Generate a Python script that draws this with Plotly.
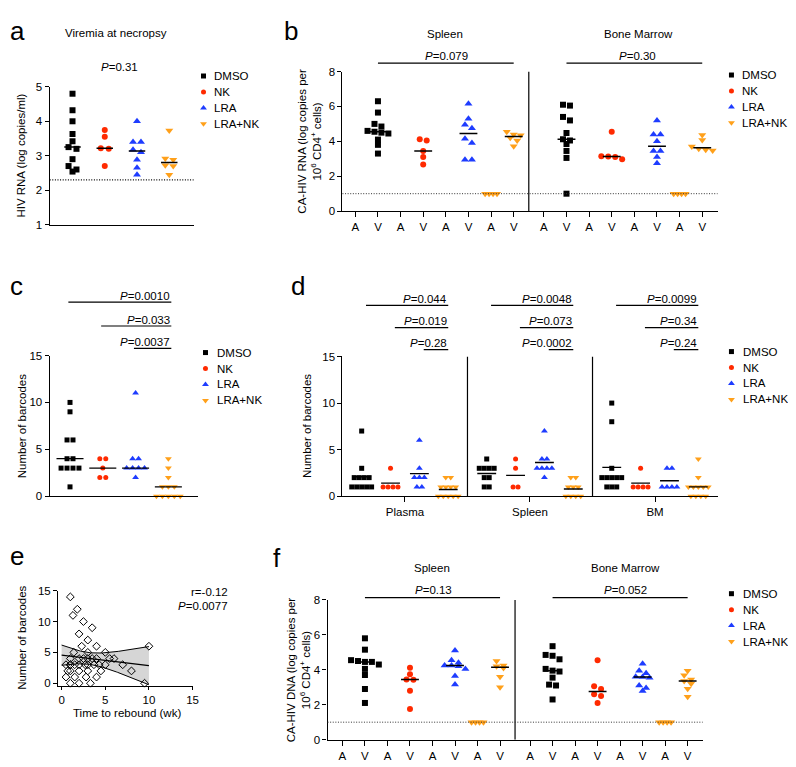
import numpy as np
import plotly.graph_objects as go

# The page body adds an 8px margin, so the figure is laid out in reference
# pixel coordinates shifted by (OX, OY).
OX, OY = 8, 8
W, H = 796 - OX, 767 - OY
FONT = "Liberation Sans, Arial, sans-serif"

GROUPS = ["DMSO", "NK", "LRA", "LRA+NK"]
COLORS = ["#000000", "#ff2a00", "#1e3cff", "#ffa01a"]
SYMBOLS = ["square", "circle", "triangle-up", "triangle-down"]

# ---------------- panel a : viremia at necropsy ----------------
a_dmso = [4.8, 4.32, 4.0, 3.63, 3.42, 3.25, 3.2, 2.9, 2.7, 2.6, 2.54]
a_nk = [3.75, 3.55, 3.22, 3.2, 2.7]
a_lra = [4.0, 3.4, 3.4, 3.17, 3.1, 2.88, 2.65, 2.45]
a_lranek = [3.73, 2.92, 2.88, 2.72, 2.7, 2.45]
a_p = "0.31"
a_lod = 2.3

# ---------------- panel b : CA-HIV RNA ----------------
b_spl_dmso = [6.3, 5.65, 5.0, 4.85, 4.6, 4.55, 4.5, 4.45, 4.1, 3.8, 3.3]
b_spl_nk = [4.12, 4.05, 3.45, 3.1, 2.68]
b_spl_lra = [6.15, 5.3, 4.95, 4.75, 4.15, 3.9, 2.95, 2.95]
b_spl_lranek_a = [1, 1, 1, 1]
b_spl_lranek_v = [4.55, 4.4, 4.35, 4.2, 4.05, 3.72]
b_bm_dmso = [6.1, 6.05, 5.4, 5.2, 4.48, 4.12, 4.05, 3.85, 3.45, 3.05, 1.0]
b_bm_nk = [4.55, 3.15, 3.13, 3.1, 2.97]
b_bm_lra = [5.2, 4.4, 4.4, 4.0, 3.45, 3.45, 3.1, 2.75]
b_bm_lranek_a = [1, 1, 1, 1]
b_bm_lranek_v = [4.37, 4.08, 3.7, 3.58, 3.52, 3.48]
b_p = ["0.079", "0.30"]

# ---------------- panel c : barcodes ----------------
c_dmso = [10, 9, 6, 6, 4, 4, 3, 3, 3, 3, 1]
c_nk = [4, 4, 3, 2, 2]
c_lra = [11, 4, 4, 3, 3, 3, 3, 2]
c_lranek = [4, 3, 2, 1, 1, 1, 0, 0, 0, 0, 0]
c_p = ["0.0010", "0.033", "0.0037"]

# ---------------- panel d : barcodes per tissue ----------------
d_tissues = ["Plasma", "Spleen", "BM"]
d_plasma_dmso = [7, 3, 2, 2, 2, 2, 1, 1, 1, 1, 1]
d_plasma_nk = [3, 1, 1, 1, 1]
d_plasma_lra = [6, 3, 2, 2, 2, 1, 1]
d_plasma_lranek = [2, 2, 1, 1, 1, 1, 0, 0, 0, 0, 0]
d_spleen_dmso = [4, 3, 3, 3, 3, 2, 2, 1, 1]
d_spleen_nk = [4, 3, 1, 1]
d_spleen_lra = [7, 4, 4, 3, 3, 3, 3, 2]
d_spleen_lranek = [2, 2, 1, 1, 1, 0, 0, 0, 0]
d_bm_dmso = [10, 8, 3, 2, 2, 2, 2, 2, 1, 1, 1]
d_bm_nk = [3, 1, 1, 1, 1]
d_bm_lra = [3, 3, 1, 1, 1, 1]
d_bm_lranek = [4, 2, 1, 1, 1, 1, 1, 0, 0, 0, 0]
d_plasma_p = ["0.044", "0.019", "0.28"]
d_spleen_p = ["0.0048", "0.073", "0.0002"]
d_bm_p = ["0.0099", "0.34", "0.24"]

# ---------------- panel e : correlation ----------------
e_weeks = [0.5, 0.5, 0.7, 1, 1, 1, 1, 1, 1, 1.3, 1.4, 1.5, 1.5, 1.8, 2, 2, 2, 2, 2,
           2.3, 2.5, 2.5, 2.7, 2.8, 3, 3, 3, 3, 3, 3.3, 3.5, 3.5, 3.7, 4, 4, 4,
           4.3, 4.5, 5, 5, 5.5, 6, 7, 8, 9.5, 10]
e_barcodes = [3, 1, 2, 14, 3, 4, 3, 2, 0, 11, 5, 3, 1, 12, 8, 4, 3, 2, 0,
              6, 10, 4, 3, 1, 7, 5, 4, 3, 2, 0, 9, 4, 3, 6, 4, 1,
              3, 2, 5, 3, 4, 4, 3, 2, 0, 6]
e_r = "-0.12"
e_p = "0.0077"

# ---------------- panel f : CA-HIV DNA ----------------
f_spl_dmso = [5.8, 5.15, 4.55, 4.5, 4.45, 4.45, 4.3, 4.05, 3.7, 2.9, 2.1]
f_spl_nk = [4.12, 3.75, 3.45, 3.43, 2.8, 1.75]
f_spl_lra = [5.1, 4.55, 4.4, 4.25, 4.25, 4.2, 4.05, 3.65, 3.15]
f_spl_lranek_a = [1, 1, 1, 1]
f_spl_lranek_v = [4.5, 4.25, 4.2, 4.1, 3.6, 3.0]
f_bm_dmso = [5.35, 4.85, 4.8, 4.6, 4.05, 3.95, 3.9, 3.55, 3.15, 3.1, 2.3]
f_bm_nk = [4.55, 3.05, 2.9, 2.6, 2.5, 2.1]
f_bm_lra = [4.35, 3.95, 3.8, 3.6, 3.58, 3.55, 3.1, 2.95, 2.78]
f_bm_lranek_a = [1, 1, 1, 1]
f_bm_lranek_v = [3.95, 3.68, 3.45, 3.35, 3.2, 2.92, 2.45]
f_p = ["0.13", "0.052"]

# =====================================================================
fig = go.Figure()
_n = [0]


def fx(x):
    return (x - OX) / W


def fy(y):
    return 1 - (y - OY) / H


def add_axes(x0, x1, y0, y1, xrange, yrange, xopt=None, yopt=None):
    _n[0] += 1
    n = _n[0]
    sfx = "" if n == 1 else str(n)
    base = dict(showgrid=False, zeroline=False, showline=True, linecolor="black",
                linewidth=1.2, ticks="outside", ticklen=4, tickwidth=1.2, tickcolor="black",
                tickfont=dict(size=11.5, color="black", family=FONT), fixedrange=True)
    xd = dict(base, domain=[fx(x0), fx(x1)], range=xrange, anchor="y" + sfx)
    yd = dict(base, domain=[fy(y1), fy(y0)], range=yrange, anchor="x" + sfx)
    if xopt:
        xd.update(xopt)
    if yopt:
        yd.update(yopt)
    fig.update_layout(**{"xaxis" + sfx: xd, "yaxis" + sfx: yd})
    return "x" + sfx, "y" + sfx


def swarm(vals, ypu, xpu, d, thresh=4.5):
    v = np.asarray(vals, float)
    order = np.argsort(-v, kind="stable")
    offs = np.zeros(len(v))
    rows = []
    for i in order:
        if rows and (v[rows[-1][0]] - v[i]) * ypu < thresh:
            rows[-1].append(i)
        else:
            rows.append([i])
    for r in rows:
        n = len(r)
        for k, i in enumerate(r):
            offs[i] = (k - (n - 1) / 2) * d / xpu
    return offs


def add_points(xr, yr, pos, vals, gi, size, xpu, ypu, d):
    off = swarm(vals, ypu, xpu, d)
    fig.add_trace(go.Scatter(
        x=pos + off, y=vals, mode="markers", xaxis=xr, yaxis=yr,
        marker=dict(symbol=SYMBOLS[gi], color=COLORS[gi],
                    size=size + (1 if gi >= 2 else 0), line=dict(width=0)),
        showlegend=False, cliponaxis=False, hoverinfo="skip"))


def add_center(xr, yr, pos, value, hw, width=1.5):
    fig.add_trace(go.Scatter(
        x=[pos - hw, pos + hw], y=[value, value], mode="lines", xaxis=xr, yaxis=yr,
        line=dict(color="black", width=width), showlegend=False, cliponaxis=False,
        hoverinfo="skip"))


def text(x, y, s, size=11.5, anchor="center", angle=0, yanchor="middle"):
    fig.add_annotation(x=fx(x), y=fy(y), xref="paper", yref="paper", text=s,
                       showarrow=False, xanchor=anchor, yanchor=yanchor, textangle=angle,
                       font=dict(size=size, color="black", family=FONT))


def pbar(xr, x0, x1, y):
    fig.add_shape(type="line", xref=xr, yref="paper", x0=x0, x1=x1,
                  y0=fy(y), y1=fy(y), line=dict(color="black", width=1.2))


def hline(xr, yr, yv, width=1, color="black"):
    fig.add_shape(type="line", xref=xr + " domain", yref=yr, x0=0, x1=1, y0=yv, y1=yv,
                  line=dict(color=color, width=width, dash="1px,1.6px"))


def vline(xr, yr, xv, y0, y1):
    fig.add_shape(type="line", xref=xr, yref=yr, x0=xv, x1=xv, y0=y0, y1=y1,
                  line=dict(color="black", width=1.2))


def pv(s):
    return "<i>P</i>=" + s


# ---------------- panel a ----------------
A_XPU, A_YPU = 32.5, 35.3
xa, ya = add_axes(50, 195, 82, 222, [-0.708, 3.754], [1, 5],
                  xopt=dict(ticks="", showticklabels=False),
                  yopt=dict(tickvals=[1, 2, 3, 4, 5]))
for gi, vals in enumerate([a_dmso, a_nk, a_lra, a_lranek]):
    add_points(xa, ya, gi, vals, gi, 6, A_XPU, A_YPU, 8)
    add_center(xa, ya, gi, float(np.median(vals)), 8.3 / A_XPU)
hline(xa, ya, a_lod, width=1.2)
text(116.5, 27, "Viremia at necropsy")
text(120.5, 62, pv(a_p))
text(21, 152, "HIV RNA (log copies/ml)", angle=-90)

# ---------------- panels b and f (A/V layout) ----------------
AV_GAP = 8.333
AV_DIV = 7.667
av_pos = []
av_txt = []
for base in (0, AV_GAP):
    for g in range(4):
        av_pos += [base + 2 * g, base + 2 * g + 1]
        av_txt += ["A", "V"]


def draw_av(xr, yr, tissues, xpu, ypu):
    for t, sets in enumerate(tissues):
        base = 0 if t == 0 else AV_GAP
        dm, nk, lra, lnk_a, lnk_v = sets
        for gi, vals, p in [(0, dm, base + 1), (1, nk, base + 3), (2, lra, base + 5),
                            (3, lnk_v, base + 7)]:
            add_points(xr, yr, p, vals, gi, 6, xpu, ypu, 7)
            add_center(xr, yr, p, float(np.median(vals)), 9.0 / xpu)
        add_points(xr, yr, base + 6, lnk_a, 3, 6, xpu, ypu, 4)
    vline(xr, yr, AV_DIV, 0, 8)
    hline(xr, yr, 1, width=1, color="#333333")


B_XPU, B_YPU = 22.8, 17.7
xb, yb = add_axes(345, 723, 66.5, 208.3, [-0.57, 16.01], [0, 8],
                  xopt=dict(tickvals=av_pos, ticktext=av_txt, ticklen=5),
                  yopt=dict(tickvals=[0, 2, 4, 6, 8]))
draw_av(xb, yb, [[b_spl_dmso, b_spl_nk, b_spl_lra, b_spl_lranek_a, b_spl_lranek_v],
                 [b_bm_dmso, b_bm_nk, b_bm_lra, b_bm_lranek_a, b_bm_lranek_v]],
        B_XPU, B_YPU)
pbar(xb, 1, 7, 58)
pbar(xb, AV_GAP + 1, AV_GAP + 7, 58)
text(448, 28, "Spleen")
text(643, 28, "Bone Marrow")
text(450, 50.5, pv(b_p[0]))
text(642, 51, pv(b_p[1]))
text(312, 137, "CA-HIV RNA (log copies per<br>10<sup>6</sup> CD4<sup>+</sup> cells)", angle=-90)

F_XPU, F_YPU = 22.69, 17.75
xf, yf = add_axes(330, 708, 603.3, 745.3, [-0.661, 16.0], [0, 8],
                  xopt=dict(tickvals=av_pos, ticktext=av_txt, ticklen=5),
                  yopt=dict(tickvals=[0, 2, 4, 6, 8]))
draw_av(xf, yf, [[f_spl_dmso, f_spl_nk, f_spl_lra, f_spl_lranek_a, f_spl_lranek_v],
                 [f_bm_dmso, f_bm_nk, f_bm_lra, f_bm_lranek_a, f_bm_lranek_v]],
        F_XPU, F_YPU)
pbar(xf, 1, 7, 601)
pbar(xf, AV_GAP + 1, AV_GAP + 7, 601)
text(435, 571, "Spleen")
text(630, 571, "Bone Marrow")
text(437, 593, pv(f_p[0]))
text(630, 593, pv(f_p[1]))
text(301, 674, "CA-HIV DNA (log copies per<br>10<sup>6</sup> CD4<sup>+</sup> cells)", angle=-90)

# ---------------- panel c ----------------
C_XPU, C_YPU = 33.0, 9.53
xc, yc = add_axes(50, 199, 355, 498, [-0.62, 3.89], [0, 15],
                  xopt=dict(ticks="", showticklabels=False),
                  yopt=dict(tickvals=[0, 5, 10, 15]))
for gi, vals in enumerate([c_dmso, c_nk, c_lra, c_lranek]):
    add_points(xc, yc, gi, vals, gi, 5, C_XPU, C_YPU, 6)
    add_center(xc, yc, gi, float(np.median(vals)), 13.6 / C_XPU, width=1.3)
for k, (g, yl) in enumerate([(0, 300.7), (1, 325), (2, 347.7)]):
    pbar(xc, g - 0.05, 3.09, yl)
    text(173, yl - 6.5, pv(c_p[k]), anchor="right")
text(22, 427, "Number of barcodes", angle=-90)

# ---------------- panel d ----------------
D_STEP = 13 / 3
D_XPU, D_YPU = 378 / 13, 9.47
xd, yd = add_axes(345, 723, 356, 498, [-D_STEP / 2, 2.5 * D_STEP], [0, 15],
                  xopt=dict(tickvals=[0, D_STEP, 2 * D_STEP], ticktext=d_tissues, ticklen=5),
                  yopt=dict(tickvals=[0, 5, 10, 15]))
d_sets = [[d_plasma_dmso, d_plasma_nk, d_plasma_lra, d_plasma_lranek],
          [d_spleen_dmso, d_spleen_nk, d_spleen_lra, d_spleen_lranek],
          [d_bm_dmso, d_bm_nk, d_bm_lra, d_bm_lranek]]
d_ps = [d_plasma_p, d_spleen_p, d_bm_p]
for t, sets in enumerate(d_sets):
    c0 = t * D_STEP
    for gi, vals in enumerate(sets):
        p = c0 + gi - 1.5
        add_points(xd, yd, p, vals, gi, 5, D_XPU, D_YPU, 5)
        add_center(xd, yd, p, float(np.mean(vals)), 9.5 / D_XPU, width=1.3)
    end = c0 + 1.5
    end_px = 345 + (end + D_STEP / 2) * D_XPU
    for k, (g, yl) in enumerate([(0, 304), (1, 326.7), (2, 349)]):
        pbar(xd, c0 + g - 1.5 + 0.15, end, yl)
        text(end_px + 1, yl - 6.5, pv(d_ps[t][k]), anchor="right")
    if t < 2:
        vline(xd, yd, c0 + D_STEP / 2, 0, 15)
text(310, 427, "Number of barcodes", angle=-90)

# ---------------- panel e ----------------
xe, ye = add_axes(58.5, 194, 594, 690.5, [-0.4, 15], [-0.4, 15],
                  xopt=dict(tickvals=[0, 5, 10, 15], ticklen=3),
                  yopt=dict(tickvals=[0, 5, 10, 15]))
ex = np.asarray(e_weeks, float)
ey = np.asarray(e_barcodes, float)
slope, icpt = np.polyfit(ex, ey, 1)
nn = len(ex)
resid = ey - (slope * ex + icpt)
s_err = np.sqrt(np.sum(resid ** 2) / (nn - 2))
sxx = np.sum((ex - ex.mean()) ** 2)
tcrit = 2.015
xs = np.linspace(0, ex.max(), 120)
fit = slope * xs + icpt
half = tcrit * s_err * np.sqrt(1 / nn + (xs - ex.mean()) ** 2 / sxx)
up, lo = fit + half, fit - half
fig.add_trace(go.Scatter(x=np.concatenate([xs, xs[::-1]]), y=np.concatenate([up, lo[::-1]]),
                         fill="toself", fillcolor="#d6d6d6", line=dict(width=0),
                         mode="lines", xaxis=xe, yaxis=ye, showlegend=False,
                         hoverinfo="skip", cliponaxis=True))
for yy, w in [(up, 1), (lo, 1), (fit, 1.2)]:
    fig.add_trace(go.Scatter(x=xs, y=yy, mode="lines", xaxis=xe, yaxis=ye,
                             line=dict(color="black", width=w), showlegend=False,
                             hoverinfo="skip", cliponaxis=True))
fig.add_trace(go.Scatter(x=ex, y=ey, mode="markers", xaxis=xe, yaxis=ye,
                         marker=dict(symbol="diamond-open", color="black", size=6,
                                     line=dict(width=1, color="black")),
                         showlegend=False, hoverinfo="skip", cliponaxis=False))
text(232, 595, "r=" + e_r, anchor="right")
text(232, 610, pv(e_p), anchor="right")
text(22, 642, "Number of barcodes", angle=-90)
text(128, 718, "Time to rebound (wk)")

# ---------------- legends (overlay in reference-pixel space) ----------------
xo, yo = add_axes(OX, OX + W, OY, OY + H, [OX, OX + W], [OY + H, OY],
                  xopt=dict(visible=False), yopt=dict(visible=False))


def legend(xm, xt, y0, step=16.2):
    for gi, name in enumerate(GROUPS):
        y = y0 + gi * step
        fig.add_trace(go.Scatter(x=[xm], y=[y], mode="markers", xaxis=xo, yaxis=yo,
                                 marker=dict(symbol=SYMBOLS[gi], color=COLORS[gi],
                                             size=5 + (1 if gi >= 2 else 0)),
                                 showlegend=False, hoverinfo="skip", cliponaxis=False))
        text(xt, y, name, size=11.5, anchor="left")


legend(205, 214, 71)
legend(737, 746, 70)
legend(207, 217, 352)
legend(737, 747, 351)
legend(737, 747, 597)

# ---------------- panel letters ----------------
for lx, ly, s, xa_, ya_ in [(8, 8, "a", "left", "top"), (293, 8, "b", "center", "top"),
                            (8, 284, "c", "left", "middle"), (300, 284, "d", "center", "middle"),
                            (8, 558.5, "e", "left", "middle"), (279, 560.5, "f", "center", "middle")]:
    text(lx, ly, s, size=26, anchor=xa_, yanchor=ya_)

fig.update_layout(width=W, height=H, autosize=False,
                  margin=dict(l=0, r=0, t=0, b=0, pad=0),
                  paper_bgcolor="white", plot_bgcolor="rgba(0,0,0,0)",
                  showlegend=False, font=dict(family=FONT, color="black"))

fig.write_html("out.html")
